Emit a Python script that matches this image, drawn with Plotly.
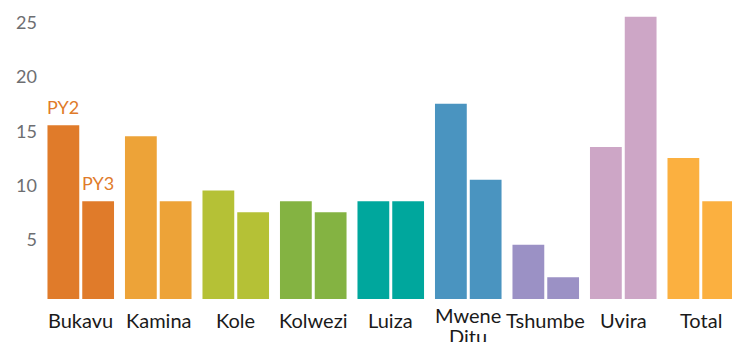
import plotly.graph_objects as go

categories = ["Bukavu", "Kamina", "Kole", "Kolwezi", "Luiza", "Mwene Ditu", "Tshumbe", "Uvira", "Total"]
category_labels = ["Bukavu", "Kamina", "Kole", "Kolwezi", "Luiza", "Mwene<br>Ditu", "Tshumbe", "Uvira", "Total"]
py2_values = [16, 15, 10, 9, 9, 18, 5, 14, 13]
py3_values = [9, 9, 8, 8, 9, 11, 2, 26, 9]
bar_colors = ["#E07B2A", "#EDA338", "#B5C136", "#84B342", "#00A79D", "#4A94C0", "#9B91C5", "#CDA6C6", "#FBB040"]
tick_values = [5, 10, 15, 20, 25]

fig = go.Figure()
fig.add_trace(go.Bar(x=categories, y=py2_values, name="PY2",
                     marker=dict(color=bar_colors, line=dict(width=0))))
fig.add_trace(go.Bar(x=categories, y=py3_values, name="PY3",
                     marker=dict(color=bar_colors, line=dict(width=0))))

fig.add_annotation(x=categories[0], y=py2_values[0], text="PY2", showarrow=False,
                   xshift=-17.5, yanchor="bottom", yshift=5,
                   font=dict(family="Lato", size=18, color="#E07B2A"))
fig.add_annotation(x=categories[0], y=py3_values[0], text="PY3", showarrow=False,
                   xshift=17.5, yanchor="bottom", yshift=5,
                   font=dict(family="Lato", size=18, color="#E07B2A"))

# category labels
for cat, lab in zip(categories, category_labels):
    if "<br>" in lab:
        # tighter line spacing for the two-line label
        text = "<br>".join("<span style='font-size:20px'>%s</span>" % part
                           for part in lab.split("<br>"))
        fig.add_annotation(x=cat, y=0, yref="paper", text=text, showarrow=False,
                           yanchor="top", yshift=-2,
                           font=dict(family="Lato", size=16, color="#1a1a1a"))
    else:
        fig.add_annotation(x=cat, y=0, yref="paper", text=lab, showarrow=False,
                           yanchor="top", yshift=-7,
                           font=dict(family="Lato", size=20, color="#1a1a1a"))

fig.update_layout(
    width=732, height=342,
    margin=dict(l=42, r=0, t=6, b=43, autoexpand=False),
    paper_bgcolor="white", plot_bgcolor="white",
    showlegend=False,
    barmode="group", bargap=0.1026, bargroupgap=0.086,
    font=dict(family="Lato"),
)
fig.update_xaxes(range=[-0.5, 8.403], showgrid=False, zeroline=False, showline=False,
                 automargin=False, ticks="", showticklabels=False)
fig.update_yaxes(range=[0, 27], tickvals=tick_values, showgrid=False, zeroline=False,
                 showline=False, automargin=False, ticks="", ticklabelshift=-5,
                 ticklabelstandoff=4,
                 tickfont=dict(family="Lato", size=18, color="#6d6e71"))

fig.write_html("out.html", config={"displayModeBar": False},
               post_script="document.body.style.margin='0';document.body.style.overflow='hidden';")
